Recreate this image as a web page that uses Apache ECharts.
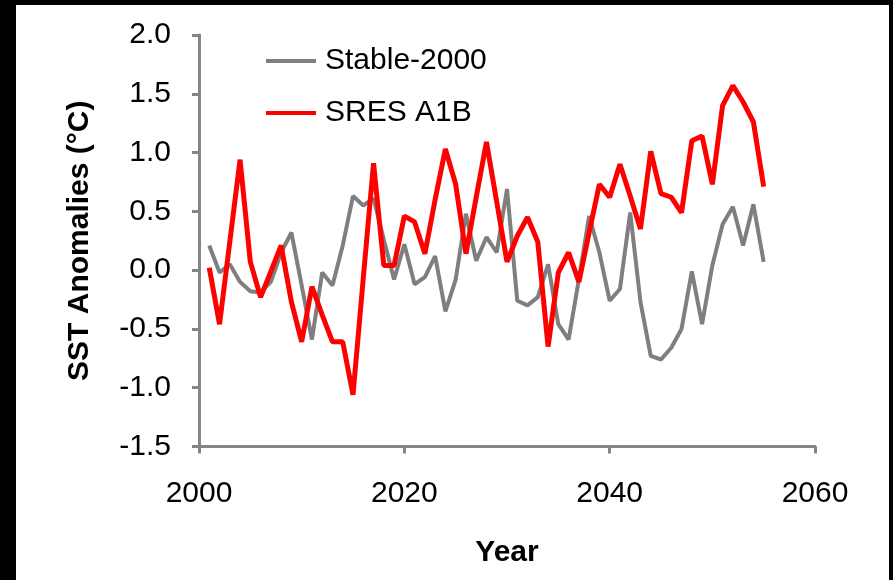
<!DOCTYPE html>
<html>
<head>
<meta charset="utf-8">
<script src="https://cdn.jsdelivr.net/npm/echarts@6/dist/echarts.min.js"></script>
<style>
  html, body { margin: 0; padding: 0; background: #000; width: 893px; height: 580px; overflow: hidden; }
  #chart { position: absolute; left: 16px; top: 5px; width: 873px; height: 575px; background: #fff; }
</style>
</head>
<body>
<div id="chart"></div>
<script>
const years = [2001,2002,2003,2004,2005,2006,2007,2008,2009,2010,
  2011,2012,2013,2014,2015,2016,2017,2018,2019,2020,
  2021,2022,2023,2024,2025,2026,2027,2028,2029,2030,
  2031,2032,2033,2034,2035,2036,2037,2038,2039,2040,
  2041,2042,2043,2044,2045,2046,2047,2048,2049,2050,
  2051,2052,2053,2054,2055];

const stable2000 = [0.21,-0.02,0.05,-0.10,-0.18,-0.19,-0.10,0.15,0.32,-0.13,
  -0.59,-0.02,-0.13,0.21,0.63,0.55,0.61,0.26,-0.08,0.22,
  -0.12,-0.06,0.12,-0.35,-0.08,0.48,0.08,0.28,0.15,0.69,
  -0.26,-0.30,-0.23,0.05,-0.46,-0.59,-0.08,0.46,0.15,-0.26,
  -0.16,0.49,-0.27,-0.73,-0.76,-0.66,-0.50,-0.01,-0.46,0.04,
  0.39,0.54,0.21,0.56,0.07];

const sresA1B = [0.02,-0.46,0.24,0.94,0.07,-0.23,-0.01,0.21,-0.27,-0.61,
  -0.14,-0.38,-0.61,-0.61,-1.06,-0.07,0.91,0.04,0.04,0.46,
  0.41,0.14,0.60,1.03,0.73,0.14,0.62,1.09,0.58,0.07,
  0.29,0.45,0.24,-0.65,-0.02,0.15,-0.10,0.32,0.73,0.62,
  0.90,0.63,0.35,1.01,0.65,0.62,0.49,1.10,1.14,0.73,
  1.40,1.57,1.43,1.26,0.71];

const seriesNames = ['Stable-2000', 'SRES A1B'];
const xTicks = [2000, 2020, 2040, 2060];
const yTicks = [-1.5, -1.0, -0.5, 0.0, 0.5, 1.0, 1.5, 2.0];

const chart = echarts.init(document.getElementById('chart'));
const font = 'Arial, "Liberation Sans", sans-serif';
const axisColor = '#858585';

chart.setOption({
  animation: false,
  textStyle: { fontFamily: font },
  grid: { left: 183, top: 30, width: 616, height: 411.5, containLabel: false },
  legend: {
    orient: 'vertical',
    left: 250,
    top: 41,
    padding: 0,
    icon: 'rect',
    itemWidth: 50,
    itemHeight: 4,
    itemGap: 22,
    textStyle: { fontSize: 30, color: '#000', fontFamily: font, lineHeight: 30, padding: [0, 0, 0, 4] },
    data: seriesNames
  },
  xAxis: {
    type: 'value',
    min: xTicks[0],
    max: xTicks[xTicks.length - 1],
    interval: 20,
    name: 'Year',
    nameLocation: 'middle',
    nameGap: 91,
    nameTextStyle: { fontSize: 30, fontWeight: 'bold', color: '#000', fontFamily: font },
    axisLine: { show: true, onZero: false, lineStyle: { color: axisColor, width: 3 } },
    axisTick: { show: true, inside: false, length: 7, lineStyle: { color: axisColor, width: 3 } },
    axisLabel: { fontSize: 30, color: '#000', margin: 32, fontFamily: font,
      formatter: v => String(v) },
    splitLine: { show: false }
  },
  yAxis: {
    type: 'value',
    min: yTicks[0],
    max: yTicks[yTicks.length - 1],
    interval: 0.5,
    name: 'SST Anomalies (°C)',
    nameLocation: 'middle',
    nameGap: 104,
    nameTextStyle: { fontSize: 30, fontWeight: 'bold', color: '#000', fontFamily: font },
    axisLine: { show: true, onZero: false, lineStyle: { color: axisColor, width: 3 } },
    axisTick: { show: true, inside: false, length: 7, lineStyle: { color: axisColor, width: 3 } },
    axisLabel: { fontSize: 30, color: '#000', margin: 28, fontFamily: font,
      formatter: v => v.toFixed(1) },
    splitLine: { show: false }
  },
  series: [
    {
      name: seriesNames[0],
      type: 'line',
      symbol: 'none',
      data: years.map((y, i) => [y, stable2000[i]]),
      lineStyle: { color: '#7f7f7f', width: 4 },
      itemStyle: { color: '#7f7f7f' },
      z: 2
    },
    {
      name: seriesNames[1],
      type: 'line',
      symbol: 'none',
      data: years.map((y, i) => [y, sresA1B[i]]),
      lineStyle: { color: '#ff0000', width: 5 },
      itemStyle: { color: '#ff0000' },
      z: 3
    }
  ]
});
</script>
</body>
</html>
